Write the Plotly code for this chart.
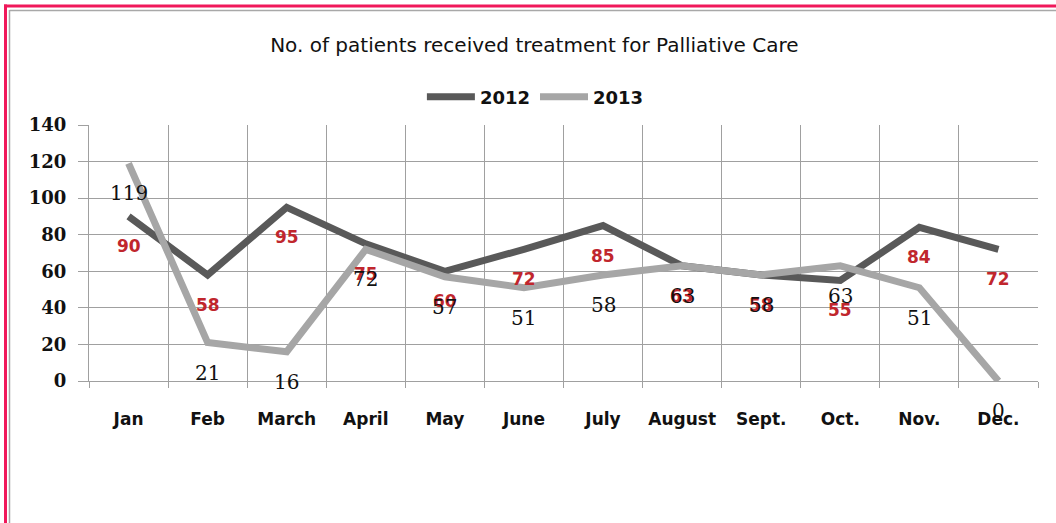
import plotly.graph_objects as go

months = ["Jan", "Feb", "March", "April", "May", "June", "July", "August", "Sept.", "Oct.", "Nov.", "Dec."]
values_2012 = [90, 58, 95, 75, 60, 72, 85, 63, 58, 55, 84, 72]
values_2013 = [119, 21, 16, 72, 57, 51, 58, 63, 58, 63, 51, 0]

W, H = 1056, 523
L, R, T, B = 89, 1038, 125, 381  # plot area in pixels

def px(x):
    return (x - L) / (R - L)

def py(y):
    return (B - y) / (B - T)

fig = go.Figure()
fig.add_trace(go.Scatter(x=months, y=values_2012, mode="lines", name="2012",
                         line=dict(color="#595959", width=7)))
fig.add_trace(go.Scatter(x=months, y=values_2013, mode="lines", name="2013",
                         line=dict(color="#a6a6a6", width=7)))

for m, v in zip(months, values_2012):
    fig.add_annotation(x=m, y=v, text=str(v), showarrow=False, yshift=-30,
                       font=dict(family="DejaVu Sans", size=17, color="#c0262d", weight="bold"))
for m, v in zip(months, values_2013):
    fig.add_annotation(x=m, y=v, text=str(v), showarrow=False, yshift=-30,
                       font=dict(family="DejaVu Serif", size=20, color="#111111"))

# frame lines
fig.add_shape(type="line", xref="paper", yref="paper", x0=px(4), x1=px(1100), y0=py(6), y1=py(6),
              line=dict(color="#f0185a", width=3))
fig.add_shape(type="line", xref="paper", yref="paper", x0=px(5.5), x1=px(5.5), y0=py(4.5), y1=py(560),
              line=dict(color="#f0185a", width=3))
fig.add_shape(type="line", xref="paper", yref="paper", x0=px(9.5), x1=px(1100), y0=py(10.5), y1=py(10.5),
              line=dict(color="#a8a8a8", width=1.5))
fig.add_shape(type="line", xref="paper", yref="paper", x0=px(9.5), x1=px(9.5), y0=py(10), y1=py(560),
              line=dict(color="#a8a8a8", width=1.5))

fig.update_layout(
    width=W, height=H,
    margin=dict(l=L, r=W - R, t=T, b=H - B, autoexpand=False),
    paper_bgcolor="white", plot_bgcolor="white",
    title=dict(text="No. of patients received treatment for Palliative Care",
               x=0.506, xref="container", xanchor="center",
               y=1 - 45 / H, yref="container", yanchor="middle",
               font=dict(family="DejaVu Sans", size=20, color="#111111")),
    legend=dict(orientation="h", x=0.507, xref="container", xanchor="center",
                y=1 - 97 / H, yref="container", yanchor="middle",
                font=dict(family="DejaVu Sans", size=18, color="#111111", weight="bold"),
                itemwidth=48, tracegroupgap=0),
    showlegend=True,
    xaxis=dict(type="category", range=[-0.5, 11.5], tickson="boundaries",
               showgrid=True, gridcolor="#a0a0a0", gridwidth=1.3,
               ticks="outside", ticklen=6, tickcolor="#a0a0a0",
               showline=True, linecolor="#a0a0a0", linewidth=1.3,
               ticklabelstandoff=22, tickangle=0,
               tickfont=dict(family="DejaVu Sans", size=17, color="#111111", weight="bold"),
               fixedrange=True),
    yaxis=dict(range=[0, 140], dtick=20, showgrid=True, gridcolor="#a0a0a0", gridwidth=1.3,
               ticks="outside", ticklen=10, tickcolor="#a0a0a0",
               showline=True, linecolor="#a0a0a0", linewidth=1.3,
               zeroline=False, ticklabelstandoff=8,
               tickfont=dict(family="DejaVu Serif", size=18, color="#111111", weight="bold"),
               fixedrange=True),
)

fig.write_html("out.html", config={"displayModeBar": False},
               post_script="document.body.style.margin='0';")
